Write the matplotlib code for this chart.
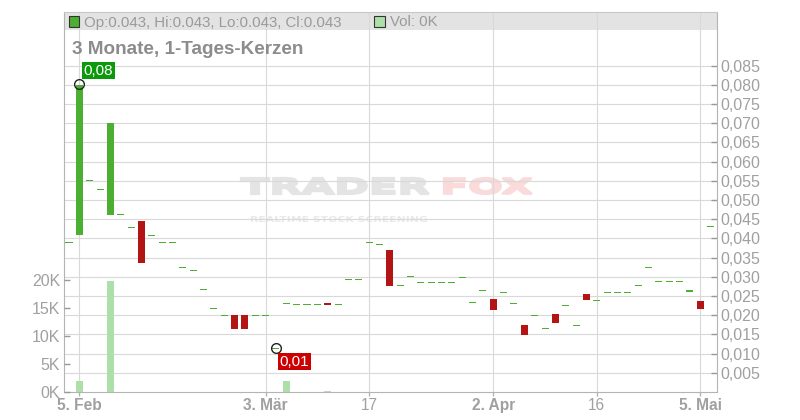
import matplotlib
matplotlib.use("Agg")
import matplotlib.pyplot as plt
import numpy as np
from matplotlib.patches import Rectangle, PathPatch
from matplotlib.textpath import TextPath
from matplotlib.font_manager import FontProperties
from matplotlib.transforms import Affine2D

plt.rcParams['font.family'] = ['Liberation Sans', 'DejaVu Sans']

# trading-day index, 0 = 5. Feb
days = list(range(-1, 62))
opens = [
    0.039, 0.041, 0.055, 0.0528, 0.046, 0.0463, 0.0429, 0.0445, 0.0408, 0.039,
    0.039, 0.0325, 0.0317, 0.0267, 0.0218, 0.020, 0.020, 0.020, 0.020, 0.020,
    0.0114, 0.0228, 0.0228, 0.0228, 0.0228, 0.0231, 0.0228, 0.0293, 0.0293, 0.039,
    0.0385, 0.037, 0.0278, 0.0301, 0.0286, 0.0286, 0.0286, 0.0286, 0.0299, 0.0234,
    0.0265, 0.0242, 0.026, 0.0231, 0.0174, 0.020, 0.0166, 0.0202, 0.0226, 0.0174,
    0.0254, 0.0239, 0.026, 0.026, 0.026, 0.0278, 0.0325, 0.0288, 0.0288, 0.0288,
    0.0263, 0.0237, 0.043]
closes = [
    0.039, 0.080, 0.055, 0.0528, 0.070, 0.0463, 0.0429, 0.0336, 0.0408, 0.039,
    0.039, 0.0325, 0.0317, 0.0267, 0.0218, 0.020, 0.0165, 0.0165, 0.020, 0.020,
    0.0114, 0.0232, 0.0228, 0.0228, 0.0228, 0.0227, 0.0228, 0.0293, 0.0293, 0.039,
    0.0385, 0.0276, 0.0278, 0.0301, 0.0286, 0.0286, 0.0286, 0.0286, 0.0299, 0.0234,
    0.0265, 0.0214, 0.026, 0.0231, 0.0149, 0.020, 0.0166, 0.018, 0.0226, 0.0174,
    0.024, 0.0239, 0.026, 0.026, 0.026, 0.0278, 0.0325, 0.0288, 0.0288, 0.0288,
    0.0263, 0.0215, 0.043]

vol_days = [0, 3, 20, 24]
volumes = [2000, 19900, 2000, 200]
vol_up = [True, True, True, False]

tick_days = [0, 18, 28, 40, 50, 60]
tick_labels = ['5. Feb', '3. Mär', '17', '2. Apr', '16', '5. Mai']
tick_bold = [True, True, False, True, False, True]

price_ticks = [0.005 * k for k in range(1, 18)]
vol_ticks = [0, 5000, 10000, 15000, 20000]
vol_labels = ['0K', '5K', '10K', '15K', '20K']

high_day, high_val = 0, 0.0802
low_day, low_val = 19, 0.0114

GREEN = '#4caf32'
RED = '#b31515'
VOLGREEN = '#addfa8'
LABEL = '#a0a0a0'

fig = plt.figure(figsize=(8, 4.2), dpi=100)
ax = fig.add_axes([63.5 / 800, 28 / 420, 653 / 800, 380 / 420])

# header band inside the plot
ax.add_patch(Rectangle((0, 1 - 18 / 380), 1, 18 / 380, transform=ax.transAxes,
                       fc='#e3e3e3', ec='none', zorder=0.1))


def wide_text(s, box, color, stroke):
    p = TextPath((0, 0), s, size=40, prop=FontProperties(family='DejaVu Sans', weight='bold'))
    ext = p.get_extents()
    x0, y0, x1, y1 = box
    tr = (Affine2D().translate(-ext.x0, -ext.y0)
          .scale((x1 - x0) / ext.width, (y1 - y0) / ext.height)
          .translate(x0, 420 - y1))
    ax.add_patch(PathPatch(p, transform=tr, fc=color, ec=color, lw=stroke, zorder=0.3))


# watermark
wide_text('TRADER', (241, 178, 429, 194), '#e4e4e4', 1.6)
wide_text('FOX', (444, 178, 532, 194), '#fadada', 1.6)
wide_text('REALTIME STOCK SCREENING', (251, 216, 427, 222), '#e8e8e8', 0)

o = np.array(opens)
c = np.array(closes)
x = np.array(days)
doji_h = 0.0003
lo = np.minimum(o, c)
hi = np.maximum(o, c)
flat = (hi - lo) < doji_h
h = np.where(flat, doji_h, hi - lo)
bottom = np.where(flat, (o + c) / 2 - doji_h / 2, lo)
colors = [RED if cc < oo else GREEN for oo, cc in zip(opens, closes)]
ax.bar(x, h, bottom=bottom, width=0.68, color=colors, linewidth=0, zorder=3)

# high / low markers
ax.plot([high_day], [high_val], 'o', mfc='none', mec='#222', ms=7, mew=1, zorder=5)
ax.annotate(f"{high_val:.2f}".replace('.', ','), (high_day, high_val), xytext=(2.9, 4.7),
            textcoords='offset points', ha='left', va='bottom', color='white', fontsize=11,
            bbox=dict(boxstyle='square,pad=0.1', fc='#0c9a0c', ec='none'), zorder=6)
ax.plot([low_day], [low_val], 'o', mfc='none', mec='#222', ms=7, mew=1, zorder=5)
ax.annotate(f"{low_val:.2f}".replace('.', ','), (low_day, low_val), xytext=(2.7, -4.7),
            textcoords='offset points', ha='left', va='top', color='white', fontsize=11,
            bbox=dict(boxstyle='square,pad=0.1', fc='#cc0000', ec='none'), zorder=6)

ax.set_xlim(-1.53, 61.57)
ax.set_ylim(0, 380 / 3840)
ax.set_yticks(price_ticks)
ax.set_yticklabels([f"{v:.3f}".replace('.', ',') for v in price_ticks])
ax.set_xticks(tick_days)
ax.set_xticklabels(tick_labels)
for lab, b in zip(ax.get_xticklabels(), tick_bold):
    lab.set_fontweight('bold' if b else 'normal')
ax.grid(True, color='#d9d9d9', lw=0.8)
ax.set_axisbelow(True)

# volume on a twin axis, labels on the left
ax2 = ax.twinx()
ax2.bar(vol_days, volumes, width=0.68, linewidth=0, zorder=2,
        color=[VOLGREEN if u else '#cccccc' for u in vol_up])
ax2.set_ylim(0, 380 / 5.6 * 1000)
ax2.set_yticks(vol_ticks)
ax2.set_yticklabels(vol_labels)
ax.yaxis.tick_right()
ax2.yaxis.tick_left()

ax.tick_params(axis='y', direction='in', length=4, width=1, color='#999999',
               labelcolor=LABEL, labelsize=11.5, pad=3)
ax2.tick_params(axis='y', direction='in', length=4, width=1, color='#999999',
                labelcolor=LABEL, labelsize=11.5, pad=2.5)
ax.tick_params(axis='x', direction='out', length=3, width=1, color='#b4b4b4',
               labelcolor=LABEL, labelsize=11.2, pad=1.5)

for sp in ax2.spines.values():
    sp.set_visible(False)
for name in ['left', 'bottom', 'right']:
    ax.spines[name].set_color('#b4b4b4')
ax.spines['top'].set_color('#c8c8c8')

# header legend
fig.add_artist(Rectangle((68.5 / 800, (420 - 27) / 420), 10.5 / 800, 10.5 / 420,
                         transform=fig.transFigure, fc=GREEN, ec='#333333', lw=0.8, zorder=5))
fig.text(84 / 800, (420 - 26.5) / 420,
         f"Op:{opens[-1]:.3f}, Hi:{max(opens[-1], closes[-1]):.3f}, "
         f"Lo:{min(opens[-1], closes[-1]):.3f}, Cl:{closes[-1]:.3f}",
         fontsize=10.8, color='#9a9a9a', va='baseline', ha='left', zorder=6)
fig.add_artist(Rectangle((374 / 800, (420 - 27) / 420), 10.5 / 800, 10.5 / 420,
                         transform=fig.transFigure, fc=VOLGREEN, ec='#333333', lw=0.8, zorder=5))
fig.text(390 / 800, (420 - 26.5) / 420, "Vol: 0K", fontsize=10.8, color='#9a9a9a',
         va='baseline', ha='left', zorder=6)
fig.text(72 / 800, (420 - 54) / 420, "3 Monate, 1-Tages-Kerzen", fontsize=13.6,
         fontweight='bold', color='#8c8c8c', va='baseline', ha='left', zorder=6)

fig.savefig('out.png', dpi=100)
